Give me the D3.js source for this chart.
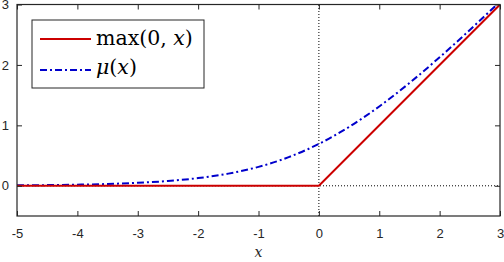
<!DOCTYPE html>
<html><head><meta charset="utf-8">
<script src="https://cdn.jsdelivr.net/npm/d3@7"></script>
<style>body{margin:0;background:#fff}svg{display:block}</style>
</head><body>
<svg id="c" width="504" height="262"></svg>
<script>
const xTicks = [-5,-4,-3,-2,-1,0,1,2,3];
const yTicks = [0,1,2,3];
const reluX = [-5,0,3];
const reluY = [0,0,3];
const muX = [-5,-4.5,-4,-3.5,-3,-2.5,-2,-1.5,-1,-0.5,0,0.5,1,1.5,2,2.5,3];
const muY = [0.007,0.011,0.018,0.030,0.049,0.079,0.127,0.201,0.313,0.474,0.693,0.974,1.313,1.701,2.127,2.579,3.049];
const legendLabels = ["max(0, x)", "μ(x)"];

const svg = d3.select("#c");
const L=17, R=500, T=4.5, B=216;
const x = d3.scaleLinear().domain([-5,3]).range([L,R]);
const y = d3.scaleLinear().domain([-0.5,3]).range([B,T]);
const axisCol="#262626";
const fmt = d => String(d).replace("\u2212","-");

svg.append("defs").append("clipPath").attr("id","clip").append("rect")
  .attr("x",L).attr("y",T).attr("width",R-L).attr("height",B-T);

const g = svg.append("g").attr("clip-path","url(#clip)");
g.append("line").attr("x1",x(0)).attr("x2",x(0)).attr("y1",y(-0.5)).attr("y2",y(3))
  .attr("stroke","#000").attr("stroke-width",1).attr("stroke-dasharray","1,2");
g.append("line").attr("x1",x(-5)).attr("x2",x(3)).attr("y1",y(0)).attr("y2",y(0))
  .attr("stroke","#000").attr("stroke-width",1).attr("stroke-dasharray","1,2");

g.append("path").datum(muX.map((v,i)=>[v,muY[i]]))
  .attr("d", d3.line().x(d=>x(d[0])).y(d=>y(d[1])).curve(d3.curveMonotoneX)).attr("fill","none")
  .attr("stroke","#0000cc").attr("stroke-width",2).attr("stroke-dasharray","7,3,2,3");
g.append("path").datum(reluX.map((v,i)=>[v,reluY[i]]))
  .attr("d", d3.line().x(d=>x(d[0])).y(d=>y(d[1]))).attr("fill","none")
  .attr("stroke","#cc0000").attr("stroke-width",2);

function styleAxis(sel){
  sel.select(".domain").remove();
  sel.selectAll("line").attr("stroke",axisCol);
  sel.selectAll("text").attr("fill",axisCol).style("font-family","'Liberation Sans',Arial,sans-serif").style("font-size","13px");
}
svg.append("g").attr("transform",`translate(0,${B})`)
  .call(d3.axisBottom(x).tickValues(xTicks).tickSize(-5).tickPadding(13).tickFormat(fmt)).call(styleAxis);
svg.append("g").attr("transform",`translate(0,${T})`)
  .call(d3.axisTop(x).tickValues(xTicks).tickSize(-5).tickFormat("")).call(styleAxis);
svg.append("g").attr("transform",`translate(${L},0)`)
  .call(d3.axisLeft(y).tickValues(yTicks).tickSize(-5).tickPadding(8).tickFormat(fmt)).call(styleAxis);
svg.append("g").attr("transform",`translate(${R},0)`)
  .call(d3.axisRight(y).tickValues(yTicks).tickSize(-5).tickFormat("")).call(styleAxis);
svg.append("rect").attr("x",L).attr("y",T).attr("width",R-L).attr("height",B-T)
  .attr("fill","none").attr("stroke",axisCol).attr("stroke-width",1.2);

svg.append("text").attr("x",(L+R)/2).attr("y",257).attr("text-anchor","middle")
  .style("font-family","'DejaVu Serif',serif").style("font-style","italic").style("font-size","14px")
  .attr("fill",axisCol).text("x");

const lg = svg.append("g");
lg.append("rect").attr("x",32).attr("y",20).attr("width",172).attr("height",68)
  .attr("fill","#fff").attr("stroke",axisCol).attr("stroke-width",1);
const items=[{c:"#cc0000",d:null,y:39,b:45},{c:"#0000cc",d:"7,3,2,3",y:70,b:74}];
items.forEach((it,i)=>{
  lg.append("line").attr("x1",40).attr("x2",91).attr("y1",it.y).attr("y2",it.y)
    .attr("stroke",it.c).attr("stroke-width",2).attr("stroke-dasharray",it.d);
  const t = lg.append("text").attr("x",96).attr("y",it.b)
    .style("font-family","'DejaVu Serif',serif").style("font-size","20.5px").attr("fill","#000");
  if(i===0){
    t.append("tspan").text("max(0, ");
    t.append("tspan").style("font-style","italic").text("x");
    t.append("tspan").text(")");
  } else {
    t.append("tspan").style("font-style","italic").text("μ");
    t.append("tspan").text("(");
    t.append("tspan").style("font-style","italic").text("x");
    t.append("tspan").text(")");
  }
});
</script>
</body></html>
